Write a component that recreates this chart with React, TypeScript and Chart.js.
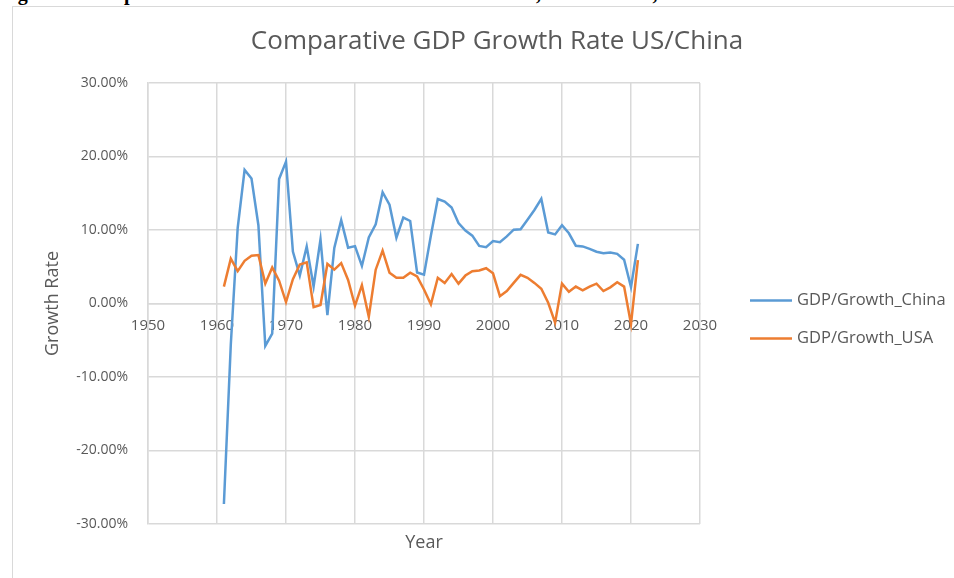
import { useEffect, useRef } from "react";
import { Chart, registerables } from "chart.js";

Chart.register(...registerables);

// Annual GDP growth (%), 1961–2021
const years = [
  1961, 1962, 1963, 1964, 1965, 1966, 1967, 1968, 1969, 1970,
  1971, 1972, 1973, 1974, 1975, 1976, 1977, 1978, 1979, 1980,
  1981, 1982, 1983, 1984, 1985, 1986, 1987, 1988, 1989, 1990,
  1991, 1992, 1993, 1994, 1995, 1996, 1997, 1998, 1999, 2000,
  2001, 2002, 2003, 2004, 2005, 2006, 2007, 2008, 2009, 2010,
  2011, 2012, 2013, 2014, 2015, 2016, 2017, 2018, 2019, 2020,
  2021,
];

const chinaGrowth = [
  -27.27, -5.58, 10.3, 18.18, 17.0, 10.65, -5.77, -4.1, 16.94, 19.3,
  7.06, 3.81, 7.76, 2.31, 8.72, -1.57, 7.57, 11.33, 7.6, 7.81,
  5.11, 9.0, 10.77, 15.14, 13.44, 8.94, 11.69, 11.23, 4.21, 3.92,
  9.26, 14.22, 13.87, 13.05, 10.95, 9.93, 9.23, 7.84, 7.67, 8.49,
  8.34, 9.13, 10.04, 10.11, 11.39, 12.72, 14.23, 9.65, 9.4, 10.64,
  9.55, 7.86, 7.77, 7.43, 7.04, 6.85, 6.95, 6.75, 5.95, 2.24,
  8.11,
];

const usaGrowth = [
  2.3, 6.1, 4.4, 5.8, 6.5, 6.6, 2.7, 4.9, 3.1, 0.2,
  3.3, 5.3, 5.6, -0.5, -0.2, 5.4, 4.6, 5.5, 3.2, -0.3,
  2.5, -1.8, 4.6, 7.2, 4.2, 3.5, 3.5, 4.2, 3.7, 1.9,
  -0.1, 3.5, 2.8, 4.0, 2.7, 3.8, 4.4, 4.5, 4.8, 4.1,
  1.0, 1.7, 2.8, 3.9, 3.5, 2.8, 2.0, 0.1, -2.6, 2.7,
  1.6, 2.3, 1.8, 2.3, 2.7, 1.7, 2.2, 2.9, 2.3, -2.8,
  5.9,
];

const seriesLabels = ["GDP/Growth_China", "GDP/Growth_USA"];
const seriesColors = ["#5B9BD5", "#ED7D31"];

const yearRange = [1950, 2030];
const yearStep = 10;
const rateRange = [-30, 30];
const rateStep = 10;

const FONT = "'Open Sans', 'Noto Sans', sans-serif";
const TEXT = "#595959";
const GRID = "#d9d9d9";

// Legend drawn to the right of the plot, vertically centred on it
const sideLegend = {
  id: "sideLegend",
  afterDraw(chart: any) {
    const { ctx, chartArea } = chart;
    const x0 = chartArea.right + 50;
    const mid = (chartArea.top + chartArea.bottom) / 2;
    ctx.save();
    ctx.font = `16.5px ${FONT}`;
    ctx.textBaseline = "middle";
    ctx.textAlign = "left";
    chart.data.datasets.forEach((ds: any, i: number) => {
      const y = mid - 3 + i * 38;
      ctx.strokeStyle = ds.borderColor;
      ctx.lineWidth = 2.5;
      ctx.beginPath();
      ctx.moveTo(x0, y);
      ctx.lineTo(x0 + 42, y);
      ctx.stroke();
      ctx.fillStyle = TEXT;
      ctx.fillText(ds.label, x0 + 47, y);
    });
    ctx.restore();
  },
};

export default function App() {
  const canvasRef = useRef<HTMLCanvasElement | null>(null);

  useEffect(() => {
    if (!canvasRef.current) return;
    const toPoints = (vals: number[]) => years.map((yr, i) => ({ x: yr, y: vals[i] }));

    const chart = new Chart(canvasRef.current, {
      type: "line",
      data: {
        datasets: [
          {
            label: seriesLabels[0],
            data: toPoints(chinaGrowth),
            borderColor: seriesColors[0],
            backgroundColor: seriesColors[0],
            borderWidth: 2.5,
            pointRadius: 0,
            tension: 0,
            order: 2,
          },
          {
            label: seriesLabels[1],
            data: toPoints(usaGrowth),
            borderColor: seriesColors[1],
            backgroundColor: seriesColors[1],
            borderWidth: 2.5,
            pointRadius: 0,
            tension: 0,
            order: 1,
          },
        ],
      },
      options: {
        responsive: false,
        animation: false,
        layout: { padding: { top: 0, left: 0, right: 0, bottom: 14 } },
        plugins: {
          legend: { display: false },
          tooltip: { enabled: false },
          title: {
            display: true,
            text: "Comparative GDP Growth Rate US/China",
            color: TEXT,
            font: { family: FONT, size: 26, weight: "normal" },
            padding: { top: 19.4, bottom: 25.4 },
          },
        },
        scales: {
          x: {
            type: "linear",
            min: yearRange[0],
            max: yearRange[1],
            position: { y: 0 },
            ticks: {
              stepSize: yearStep,
              color: TEXT,
              font: { family: FONT, size: 15 },
              padding: 13,
              maxRotation: 0,
              callback: (v: any) => String(v),
            },
            grid: { color: GRID, lineWidth: 1.5, drawTicks: false },
            border: { color: GRID, width: 1.5 },
          },
          xTitle: {
            type: "linear",
            axis: "x",
            min: yearRange[0],
            max: yearRange[1],
            position: "bottom",
            ticks: { display: false },
            grid: { display: false, drawTicks: false },
            border: { display: false },
            title: {
              display: true,
              text: "Year",
              color: TEXT,
              font: { family: FONT, size: 18 },
              padding: { top: 0, bottom: 10.5 },
            },
            afterFit: (s: any) => {
              s.height = 40;
            },
          },
          y: {
            type: "linear",
            min: rateRange[0],
            max: rateRange[1],
            ticks: {
              stepSize: rateStep,
              color: TEXT,
              font: { family: FONT, size: 14 },
              padding: 20,
              callback: (v: any) => `${Number(v).toFixed(2)}%`,
            },
            grid: { color: GRID, lineWidth: 1.5, drawTicks: false },
            border: { color: GRID, width: 1.5 },
            title: {
              display: true,
              text: "Growth Rate",
              color: TEXT,
              font: { family: FONT, size: 18 },
              padding: { top: 29.2, bottom: 0 },
            },
            afterFit: (s: any) => {
              s.width = 135;
            },
          },
          // empty right-hand gutter that holds the legend
          legendGutter: {
            type: "linear",
            axis: "y",
            position: "right",
            min: rateRange[0],
            max: rateRange[1],
            ticks: { display: false },
            grid: { display: false, drawTicks: false },
            border: { display: false },
            afterFit: (s: any) => {
              s.width = 281;
            },
          },
        },
      } as any,
      plugins: [sideLegend],
    });

    return () => chart.destroy();
  }, []);

  return (
    <div
      style={{
        position: "fixed",
        left: 0,
        top: 0,
        width: 954,
        height: 578,
        overflow: "hidden",
        background: "#fff",
      }}
    >
      <div
        style={{
          position: "absolute",
          left: 0,
          top: -18,
          whiteSpace: "nowrap",
          font: "bold 20px 'Liberation Serif', 'Times New Roman', serif",
          color: "#000",
        }}
      >
        Figure 3: Comparative GDP Growth Rate of the US and China, 1961 to 2021, annual %
      </div>
      <div
        style={{
          position: "absolute",
          left: 12,
          top: 6,
          width: 1000,
          height: 1000,
          borderLeft: `1px solid ${GRID}`,
          borderTop: `1px solid ${GRID}`,
        }}
      />
      <canvas
        ref={canvasRef}
        width={968}
        height={571}
        style={{ position: "absolute", left: 13, top: 7, width: 968, height: 571 }}
      />
    </div>
  );
}
